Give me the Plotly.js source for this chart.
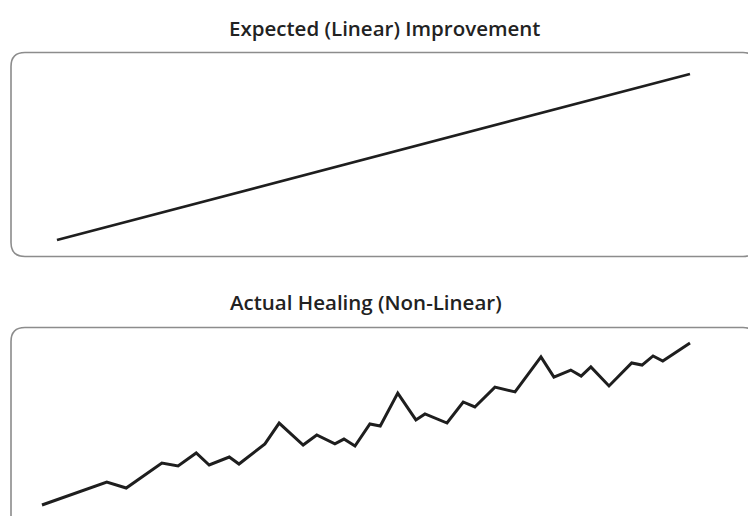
<!DOCTYPE html>
<html>
<head>
<meta charset="utf-8">
<script src="https://cdn.plot.ly/plotly-3.0.1.min.js"></script>
<style>html,body{margin:0;padding:0;background:#fff;}#chart{width:748px;height:516px;}</style>
</head>
<body>
<div id="chart"></div>
<script>
// Expected (linear) improvement
const expectedX = [0, 100];
const expectedY = [0, 100];

// Actual healing (non-linear)
const actualX = [0, 10.0, 13.0, 18.5, 21.0, 23.8, 25.8, 28.9, 30.4, 34.4, 36.6, 40.3, 42.4, 45.2, 46.6, 48.3, 50.6, 52.2, 54.9, 57.7, 59.1, 62.5, 65.0, 66.8, 69.9, 73.0, 77.0, 79.0, 81.6, 83.2, 84.7, 87.5, 91.0, 92.6, 94.3, 95.8, 100];
const actualY = [0, 14.2, 10.5, 25.9, 24.1, 32.1, 24.7, 29.6, 25.3, 37.7, 50.6, 37.0, 43.2, 37.7, 40.7, 36.4, 50.0, 48.8, 69.1, 52.5, 56.2, 50.6, 63.6, 60.5, 72.8, 69.8, 91.4, 79.0, 83.3, 79.6, 85.2, 73.5, 87.7, 86.4, 92.0, 88.9, 100];

const topTitle = "Expected (Linear) Improvement";
const bottomTitle = "Actual Healing (Non-Linear)";

const W = 748, H = 516;
function px(x){ return x / W; }
function py(y){ return 1 - y / H; }
function roundRect(x0, y0, x1, y1, r){
  const p = [];
  p.push('M', px(x0 + r), py(y0));
  p.push('L', px(x1 - r), py(y0));
  p.push('Q', px(x1), py(y0), px(x1), py(y0 + r));
  p.push('L', px(x1), py(y1 - r));
  p.push('Q', px(x1), py(y1), px(x1 - r), py(y1));
  p.push('L', px(x0 + r), py(y1));
  p.push('Q', px(x0), py(y1), px(x0), py(y1 - r));
  p.push('L', px(x0), py(y0 + r));
  p.push('Q', px(x0), py(y0), px(x0 + r), py(y0));
  p.push('Z');
  let s = '';
  for (let i = 0; i < p.length; i++) {
    const v = p[i];
    s += (typeof v === 'number' ? v.toFixed(5) : v) + ' ';
  }
  return s.trim();
}

const traces = [
  {x: expectedX, y: expectedY, xaxis: 'x', yaxis: 'y', mode: 'lines', line: {color: '#1e1e1e', width: 2.6}, hoverinfo: 'skip'},
  {x: actualX, y: actualY, xaxis: 'x2', yaxis: 'y2', mode: 'lines', line: {color: '#1e1e1e', width: 3}, hoverinfo: 'skip'}
];

const hidden = {visible: false, showgrid: false, zeroline: false, fixedrange: true};
const layout = {
  width: W, height: H,
  margin: {l: 0, r: 0, t: 0, b: 0},
  paper_bgcolor: '#ffffff', plot_bgcolor: 'rgba(0,0,0,0)',
  showlegend: false,
  xaxis: Object.assign({}, hidden, {domain: [0, 1], range: [-9.0, 109.17], anchor: 'y'}),
  yaxis: Object.assign({}, hidden, {domain: [1 - 257/H, 1 - 52/H], range: [-10.24, 113.25], anchor: 'x'}),
  xaxis2: Object.assign({}, hidden, {domain: [0, 1], range: [-6.48, 108.95], anchor: 'y2'}),
  yaxis2: Object.assign({}, hidden, {domain: [0, 1 - 327/H], range: [-6.79, 109.88], anchor: 'x2'}),
  shapes: [
    {type: 'path', xref: 'paper', yref: 'paper', path: roundRect(11, 52.5, 757, 256.5, 14), line: {color: '#8c8c8c', width: 1.6}, layer: 'below'},
    {type: 'path', xref: 'paper', yref: 'paper', path: roundRect(11, 327.5, 757, 540, 14), line: {color: '#8c8c8c', width: 1.6}, layer: 'below'}
  ],
  annotations: [
    {text: topTitle, xref: 'paper', yref: 'paper', x: px(385), y: py(28), xanchor: 'center', yanchor: 'middle', showarrow: false,
     font: {family: 'Open Sans', size: 20.5, weight: 600, color: '#222222'}},
    {text: bottomTitle, xref: 'paper', yref: 'paper', x: px(366), y: py(302), xanchor: 'center', yanchor: 'middle', showarrow: false,
     font: {family: 'Open Sans', size: 20.5, weight: 600, color: '#222222'}}
  ]
};

Plotly.newPlot('chart', traces, layout, {displayModeBar: false, staticPlot: true});
</script>
</body>
</html>
